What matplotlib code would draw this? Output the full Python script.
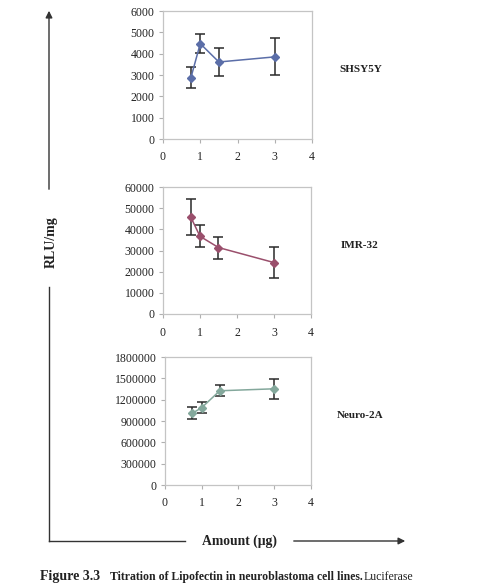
import matplotlib as mpl
mpl.use('Agg')
import matplotlib.pyplot as plt
from matplotlib.ticker import FormatStrFormatter

plt.rcParams['font.family'] = ['Liberation Serif', 'DejaVu Serif']

amount = [0.75, 1.0, 1.5, 3.0]

shsy5y = [2880, 4470, 3610, 3850]
shsy5y_err = [500, 450, 670, 870]

imr32 = [45800, 36700, 31400, 24300]
imr32_err = [8300, 5200, 5200, 7400]

neuro2a = [1010000, 1085000, 1325000, 1353000]
neuro2a_err = [80000, 78000, 78000, 143000]

panels = [
	# (name, values, errors, ymax, ystep, colour, box in pixels l, t, r, b)
	('SHSY5Y', shsy5y, shsy5y_err, 6000, 1000, '#5b6ea8', (163, 11, 312, 139)),
	('IMR-32', imr32, imr32_err, 60000, 10000, '#9a4f6c', (163, 187, 311, 314)),
	('Neuro-2A', neuro2a, neuro2a_err, 1800000, 300000, '#84a89c', (165, 357, 311, 485)),
]
xticks = [0, 1, 2, 3, 4]

W, H = 484, 584
fig = plt.figure(figsize=(W / 100, H / 100), dpi=100)

# overlay in pixel coordinates for the big arrows and caption
over = fig.add_axes([0, 0, 1, 1])
over.set_xlim(0, W)
over.set_ylim(H, 0)
over.axis('off')

for name, vals, errs, ymax, ystep, col, (l, t, r, b) in panels:
	ax = fig.add_axes([l / W, 1 - b / H, (r - l) / W, (b - t) / H])
	ax.errorbar(amount, vals, yerr=errs, fmt='none', ecolor='#2a2a2a',
		elinewidth=1.1, capsize=3.5, capthick=1.1, zorder=2)
	ax.plot(amount, vals, color=col, lw=1.1, marker='D', ms=4.5,
		mfc=col, mec=col, zorder=3)
	ax.set_xlim(0, 4)
	ax.set_ylim(0, ymax)
	ax.set_xticks(xticks)
	ax.set_yticks(range(0, ymax + 1, ystep))
	ax.yaxis.set_major_formatter(FormatStrFormatter('%d'))
	ax.tick_params(direction='out', length=3, width=0.8, color='#b0b0b0',
		labelsize=8.5, pad=3, labelcolor='#222222')
	ax.tick_params(axis='x', pad=6)
	for s in ax.spines.values():
		s.set_color('#c4c4c4')
		s.set_linewidth(0.9)
	over.text(r + 49, (t + b) / 2 - 5, name, fontsize=8, fontweight='bold',
		ha='center', va='center', color='#222222')

# RLU/mg axis arrow
over.plot([49, 49], [541, 287], color='#333333', lw=1)
over.annotate('', xy=(49, 8), xytext=(49, 192),
	arrowprops=dict(arrowstyle='-|>', color='#333333', lw=1, mutation_scale=10))
over.text(51, 242, 'RLU/mg', rotation=90, fontsize=10, fontweight='bold',
	ha='center', va='center', color='#222222')

# Amount axis arrow
over.plot([49, 185], [541, 541], color='#333333', lw=1)
over.annotate('', xy=(408, 541), xytext=(291, 541),
	arrowprops=dict(arrowstyle='-|>', color='#333333', lw=1, mutation_scale=10))
over.text(240, 541, 'Amount (\u03bcg)', fontsize=9.8, fontweight='bold',
	ha='center', va='center', color='#222222')

# caption at the bottom edge
over.text(40, 583, 'Figure 3.3', fontsize=10, fontweight='bold',
	ha='left', va='bottom', color='#222222')
over.text(110, 583, 'Titration of Lipofectin in neuroblastoma cell lines.',
	fontsize=8.5, fontweight='bold', ha='left', va='bottom', color='#222222')
over.text(364, 583, 'Luciferase', fontsize=8.5, ha='left', va='bottom',
	color='#222222')

fig.savefig('out.png', dpi=100)
